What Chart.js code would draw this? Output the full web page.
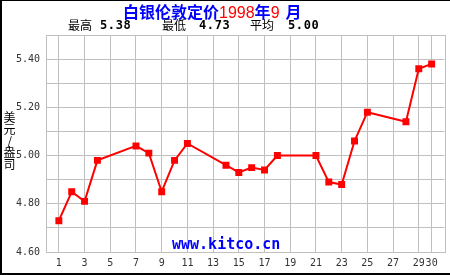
<!DOCTYPE html>
<html lang="zh">
<head>
    <meta charset="UTF-8">
    <title>白银伦敦定价</title>
    <script src="https://cdn.jsdelivr.net/npm/chart.js"></script>
    <style>
        body {
            margin: 0;
            background: #fff;
        }
        #wrap {
            position: relative;
            width: 450px;
            height: 275px;
            overflow: hidden;
            box-sizing: border-box;
            border-left: 2px solid #000;
            border-top: 1px solid #000;
            border-bottom: 2px solid #000;
        }
        #chart {
            position: absolute;
            left: -2px;
            top: -1px;
        }
        .title {
            position: absolute;
            left: 121px;
            top: 0px;
            font-family: "Noto Sans CJK SC", sans-serif;
            font-weight: bold;
            font-size: 16px;
            line-height: 20px;
            color: #0000ff;
            white-space: nowrap;
        }
        .title .num {
            font-family: "Liberation Sans", Arial, sans-serif;
            font-weight: normal;
            color: #ff0000;
        }
        .stats {
            position: absolute;
            top: 16px;
            font-size: 12px;
            line-height: 16px;
            white-space: nowrap;
        }
        .stats span {
            position: absolute;
            top: 0;
        }
        .cn {
            font-family: "Noto Sans CJK SC", sans-serif;
        }
        .val {
            font-family: "DejaVu Sans Mono", monospace;
            font-weight: bold;
            font-size: 12px;
            letter-spacing: 0.6px;
        }
        .ylabel {
            position: absolute;
            left: 1px;
            top: 110px;
            width: 13px;
            font-family: "Noto Sans CJK SC", sans-serif;
            font-size: 12px;
            color: #000;
        }
        .ylabel div {
            height: 11.8px;
            line-height: 11.8px;
            text-align: center;
        }
        .mark {
            position: absolute;
            left: 170px;
            top: 234px;
            font-family: "DejaVu Sans Mono", monospace;
            font-weight: bold;
            font-size: 15px;
            color: #0000ff;
        }
    </style>
</head>
<body>
<div id="wrap">
    <canvas id="chart" width="450" height="275"></canvas>
    <div class="title">白银伦敦定价<span class="num">1998</span>年<span class="num">9</span><span style="margin-left:6px">月</span></div>
    <div class="stats">
        <span class="cn" style="left:66px">最高</span>
        <span class="val" style="left:98px">5.38</span>
        <span class="cn" style="left:160px">最低</span>
        <span class="val" style="left:197px">4.73</span>
        <span class="cn" style="left:248px">平均</span>
        <span class="val" style="left:286px">5.00</span>
    </div>
    <div class="ylabel"><div>美</div><div>元</div><div>/</div><div>盎</div><div>司</div></div>
    <div class="mark">www.kitco.cn</div>
</div>

<script>
    // 1998年9月 伦敦白银定价 (美元/盎司)
    const days = [1, 2, 3, 4, 7, 8, 9, 10, 11, 14, 15, 16, 17, 18, 21, 22, 23, 24, 25, 28, 29, 30];
    const prices = [4.73, 4.85, 4.81, 4.98, 5.04, 5.01, 4.85, 4.98, 5.05, 4.96, 4.93, 4.95, 4.94, 5.00,
        5.00, 4.89, 4.88, 5.06, 5.18, 5.14, 5.36, 5.38];
    const xTicks = [1, 3, 5, 7, 9, 11, 13, 15, 17, 19, 21, 23, 25, 27, 29, 30];
    const yLabels = [4.6, 4.8, 5.0, 5.2, 5.4];

    const gridColor = '#c0c0c0';
    const tickFont = { family: 'DejaVu Sans Mono', size: 10 };

    // outline of the plot area
    const frame = {
        id: 'frame',
        afterDraw(chart) {
            const a = chart.chartArea;
            const ctx = chart.ctx;
            ctx.save();
            ctx.strokeStyle = gridColor;
            ctx.lineWidth = 1;
            ctx.strokeRect(Math.round(a.left) + 0.5, Math.round(a.top) + 0.5,
                Math.round(a.right - a.left), Math.round(a.bottom - a.top));
            ctx.restore();
        }
    };

    new Chart(document.getElementById('chart'), {
        type: 'line',
        data: {
            datasets: [{
                data: days.map((d, i) => ({ x: d, y: prices[i] })),
                borderColor: '#ff0000',
                backgroundColor: '#ff0000',
                borderWidth: 2,
                pointStyle: 'rect',
                pointRadius: 3.5,
                pointHoverRadius: 3.5,
                tension: 0
            }]
        },
        options: {
            responsive: false,
            animation: false,
            layout: { padding: { top: 35, right: 5, left: 0, bottom: 0 } },
            plugins: {
                legend: { display: false },
                tooltip: { enabled: false }
            },
            scales: {
                x: {
                    type: 'linear',
                    min: 0,
                    max: 31,
                    afterBuildTicks: axis => { axis.ticks = xTicks.map(v => ({ value: v })); },
                    afterFit: axis => { axis.height = 23; },
                    grid: { color: gridColor, drawTicks: false },
                    border: { display: false },
                    ticks: {
                        autoSkip: false,
                        maxRotation: 0,
                        padding: 5,
                        color: '#333',
                        font: tickFont
                    }
                },
                y: {
                    min: 4.6,
                    max: 5.5,
                    afterFit: axis => { axis.width = 46; },
                    grid: { color: gridColor, drawTicks: false },
                    border: { display: false },
                    ticks: {
                        stepSize: 0.1,
                        padding: 6,
                        color: '#333',
                        font: tickFont,
                        callback: v => yLabels.some(l => Math.abs(l - v) < 1e-6) ? v.toFixed(2) : ''
                    }
                }
            }
        },
        plugins: [frame]
    });
</script>
</body>
</html>
